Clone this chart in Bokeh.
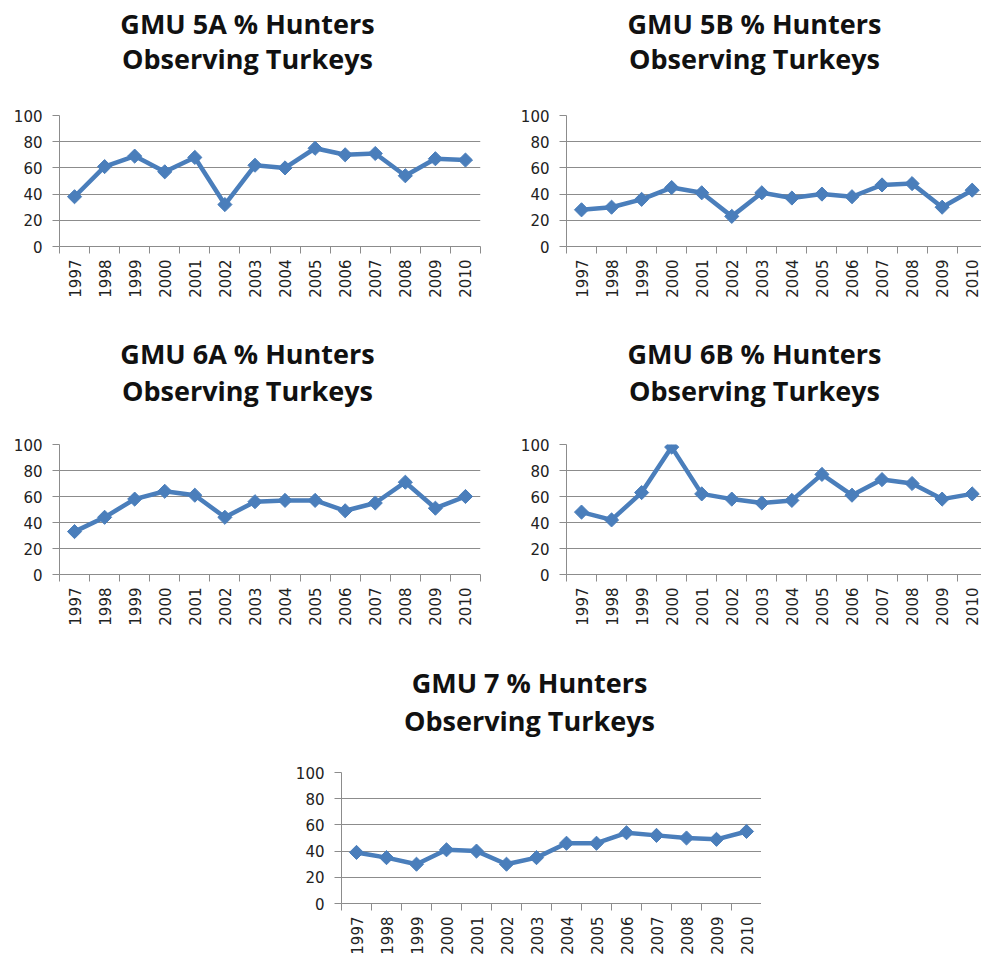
import math
from bokeh.plotting import figure
from bokeh.models import Range1d, FixedTicker, Spacer
from bokeh.core.properties import value
from bokeh.layouts import column, row
from bokeh.embed import file_html
from bokeh.resources import INLINE

# ---- data ----
years = ["1997", "1998", "1999", "2000", "2001", "2002", "2003",
         "2004", "2005", "2006", "2007", "2008", "2009", "2010"]
gmu_5a = [38, 61, 69, 57, 68, 32, 62, 60, 75, 70, 71, 54, 67, 66]
gmu_5b = [28, 30, 36, 45, 41, 23, 41, 37, 40, 38, 47, 48, 30, 43]
gmu_6a = [33, 44, 58, 64, 61, 44, 56, 57, 57, 49, 55, 71, 51, 60]
gmu_6b = [48, 42, 63, 98, 62, 58, 55, 57, 77, 61, 73, 70, 58, 62]
gmu_7 = [39, 35, 30, 41, 40, 30, 35, 46, 46, 54, 52, 50, 49, 55]
titles = ["GMU 5A % Hunters", "GMU 5B % Hunters", "GMU 6A % Hunters",
          "GMU 6B % Hunters", "GMU 7 % Hunters"]
subtitle = "Observing Turkeys"
y_ticks = [0, 20, 40, 60, 80, 100]

BLUE = "#4A7EBB"
GRID = "#8C8C8C"
TITLE_FONT = "Open Sans"
TICK_FONT = "DejaVu Sans"
TITLE_SHIFT = 188  # title centre, px right of the frame's left edge


def title_fig(width, height, items):
    """items: list of (x_centre, y_line1, y_line2, main_title)."""
    t = figure(output_backend="svg", toolbar_location=None,
               width=width, height=height, min_border=0,
               x_axis_type=None, y_axis_type=None,
               x_range=Range1d(0, width), y_range=Range1d(0, height))
    t.outline_line_color = None
    t.background_fill_color = "white"
    t.border_fill_color = "white"
    t.grid.grid_line_color = None
    for cx, y1, y2, main in items:
        t.text(x=[cx, cx], y=[y1, y2], text=[main, subtitle],
               text_align="center", text_baseline="middle",
               text_font=value(TITLE_FONT), text_font_size="27px",
               text_font_style="bold", text_color="#111111")
    return t


def make_panel(values, frame_w, x_end, b_left, b_right, frame_h, b_bottom):
    xs = [i + 1 for i in range(len(years))]
    p = figure(title=None, output_backend="svg", toolbar_location=None,
               frame_width=frame_w, frame_height=frame_h,
               min_border_left=b_left, min_border_right=b_right,
               min_border_top=10, min_border_bottom=b_bottom,
               x_range=Range1d(0.5, x_end), y_range=Range1d(0, 100),
               background_fill_color="white", border_fill_color="white")
    p.outline_line_color = None

    xa = p.xaxis[0]
    xa.ticker = FixedTicker(ticks=xs,
                            minor_ticks=[i + 0.5 for i in range(len(years) + 1)])
    xa.major_label_overrides = {x: y for x, y in zip(xs, years)}
    xa.major_tick_line_color = None
    xa.minor_tick_line_color = GRID
    xa.minor_tick_in = 0
    xa.minor_tick_out = 7
    xa.axis_line_color = GRID
    xa.major_label_orientation = math.pi / 2
    xa.major_label_standoff = 6
    xa.major_label_text_font = TICK_FONT
    xa.major_label_text_font_size = "15px"
    xa.major_label_text_color = "#222222"

    ya = p.yaxis[0]
    ya.ticker = FixedTicker(ticks=y_ticks)
    ya.major_tick_line_color = GRID
    ya.major_tick_in = 0
    ya.major_tick_out = 7
    ya.minor_tick_line_color = None
    ya.axis_line_color = GRID
    ya.major_label_standoff = 10
    ya.major_label_text_font = TICK_FONT
    ya.major_label_text_font_size = "15px"
    ya.major_label_text_color = "#222222"

    p.xgrid.grid_line_color = None
    p.ygrid.ticker = FixedTicker(ticks=y_ticks)
    p.ygrid.grid_line_color = GRID
    p.ygrid.grid_line_width = 1.2

    p.line(xs, values, line_color=BLUE, line_width=4.5, line_join="round")
    p.scatter(xs, values, marker="square", angle=math.pi / 4, size=10,
              fill_color=BLUE, line_color=BLUE)
    return p


n = len(years)
# row 1
t1 = title_fig(981, 105, [(59 + TITLE_SHIFT, 82, 47, titles[0]),
                          (566 + TITLE_SHIFT, 82, 47, titles[1])])
p1 = make_panel(gmu_5a, 421, n + 0.5, 59, 20, 131, 84)
p2 = make_panel(gmu_5b, 415, 14.31, 66, 0, 131, 84)
# row 2
t2 = title_fig(981, 104, [(59 + TITLE_SHIFT, 81, 44, titles[2]),
                          (566 + TITLE_SHIFT, 81, 44, titles[3])])
p3 = make_panel(gmu_6a, 421, n + 0.5, 59, 20, 130, 86)
p4 = make_panel(gmu_6b, 415, 14.31, 66, 0, 130, 86)
# row 3
t3 = title_fig(981, 102, [(341 + TITLE_SHIFT, 80, 42, titles[4])])
p5 = make_panel(gmu_7, 420, n + 0.5, 50, 0, 131, 55)

layout = column(t1, row(p1, p2), t2, row(p3, p4), t3,
                row(Spacer(width=291, height=10), p5))

open("out.html", "w").write(file_html(layout, INLINE))
